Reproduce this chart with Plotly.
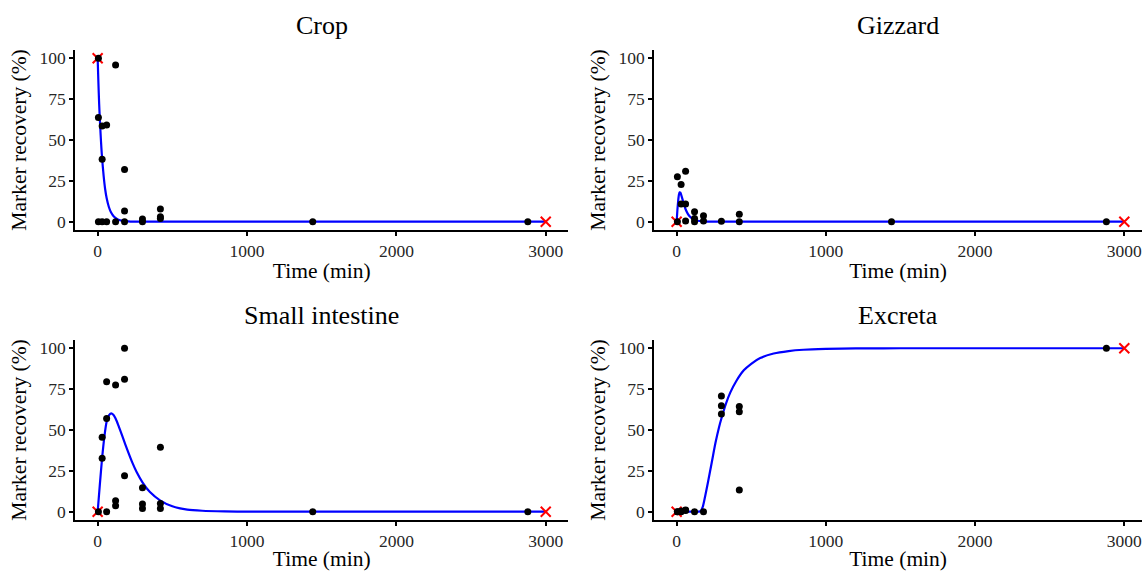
import plotly.graph_objects as go

# ---------------- data ----------------
panel_names = ["Crop", "Gizzard", "Small intestine", "Excreta"]
x_ticks = [0, 1000, 2000, 3000]
y_ticks = [0, 25, 50, 75, 100]

# observed marker recovery
crop_t = [5, 5, 5, 30, 30, 30, 60, 60, 120, 120, 180, 180, 180, 300, 300, 420, 420, 420, 1440, 2880]
crop_y = [100, 63.7, 0, 58.6, 38.2, 0, 59.2, 0, 95.9, 0, 32, 6.5, 0, 1.6, 0, 7.8, 3, 2, 0, 0]

giz_t = [5, 5, 30, 30, 60, 60, 60, 120, 120, 120, 180, 180, 300, 420, 420, 1440, 2880]
giz_y = [27.5, 0, 22.7, 10.8, 30.9, 10.8, 0.5, 6.1, 2, 0, 3.7, 0.5, 0.3, 4.5, 0, 0, 0]

si_t = [5, 30, 30, 60, 60, 60, 120, 120, 120, 180, 180, 180, 300, 300, 300, 420, 420, 420, 1440, 2880]
si_y = [0, 32.7, 45.5, 79.5, 57.1, 0, 77.6, 6.7, 3.7, 100, 81, 22, 14.7, 4.7, 2, 39.4, 5.1, 2, 0, 0]

exc_t = [5, 5, 30, 30, 60, 60, 120, 180, 300, 300, 300, 420, 420, 420, 2880]
exc_y = [0, 0, 0, 0.5, 0.8, 1, 0, 0, 70.8, 64.9, 59.8, 64.3, 61.2, 13.3, 100]

# fitted curves
crop_fit_t = [0, 5, 10, 15, 20, 25, 30, 40, 50, 60, 75, 90, 110, 135, 170, 220, 300, 3000]
crop_fit_y = [100, 85, 72, 62, 53, 45, 38.5, 28, 20, 14.5, 9, 5.6, 3, 1.4, 0.5, 0.1, 0, 0]

giz_fit_t = [0, 5, 10, 15, 20, 25, 30, 40, 50, 60, 75, 90, 110, 140, 180, 250, 400, 3000]
giz_fit_y = [0, 7, 12.5, 16.3, 18, 17.8, 16.6, 13.5, 10.3, 7.6, 4.8, 3, 1.5, 0.6, 0.2, 0, 0, 0]

si_fit_t = [0, 15, 30, 45, 60, 75, 90, 105, 120, 140, 170, 200, 230, 260, 300, 350, 420, 500,
            600, 700, 850, 1000, 1440, 3000]
si_fit_y = [0, 17, 33, 46, 55, 59, 60.2, 59.3, 57, 52.5, 45, 37.5, 30.5, 24.5, 18, 12, 6.8, 3.3,
            1.3, 0.6, 0.2, 0.05, 0, 0]

exc_fit_t = [0, 100, 160, 175, 190, 210, 235, 260, 285, 300, 330, 360, 400, 450, 500, 560, 650,
             750, 850, 1000, 1200, 1500, 3000]
exc_fit_y = [0, 0, 0.3, 3, 9, 18, 30, 42, 52, 57, 66, 73, 80, 86.5, 90.5, 94, 96.8, 98.3, 99.1,
             99.6, 99.9, 100, 100]

# boundary points (red crosses)
crop_bt, crop_by = [0, 3000], [100, 0]
giz_bt, giz_by = [0, 3000], [0, 0]
si_bt, si_by = [0, 3000], [0, 0]
exc_bt, exc_by = [0, 3000], [0, 100]

panels = [
    (crop_t, crop_y, crop_fit_t, crop_fit_y, crop_bt, crop_by),
    (giz_t, giz_y, giz_fit_t, giz_fit_y, giz_bt, giz_by),
    (si_t, si_y, si_fit_t, si_fit_y, si_bt, si_by),
    (exc_t, exc_y, exc_fit_t, exc_fit_y, exc_bt, exc_by),
]

# ---------------- layout geometry ----------------
W, H = 1142, 571
FONT = "Liberation Serif"
x_domains = [[0.0659, 0.4975], [0.5729, 1.0]]
x_ranges = [[-150, 3150], [-150, 3118.6]]
y_domains = [[0.5974, 0.9124], [0.0895, 0.4044]]
title_y = [1 - 25 / H, 1 - 315 / H]

fig = go.Figure()
layout_axes = {}
annotations = []

for i, (t, y, ft, fy, bt, by) in enumerate(panels):
    row, col = divmod(i, 2)
    n = i + 1
    xa = "x" if n == 1 else f"x{n}"
    ya = "y" if n == 1 else f"y{n}"

    fig.add_trace(go.Scatter(x=ft, y=fy, mode="lines",
                             line=dict(color="#0000FF", width=2.2, shape="spline", smoothing=0.7),
                             xaxis=xa, yaxis=ya, showlegend=False, hoverinfo="skip"))
    fig.add_trace(go.Scatter(x=bt, y=by, mode="markers",
                             marker=dict(symbol="x-thin", size=10, line=dict(color="#FF0000", width=2)),
                             xaxis=xa, yaxis=ya, showlegend=False))
    fig.add_trace(go.Scatter(x=t, y=y, mode="markers", marker=dict(color="black", size=7),
                             xaxis=xa, yaxis=ya, showlegend=False))

    axis_common = dict(showline=True, linecolor="black", linewidth=1.8, ticks="outside",
                       ticklen=4, tickwidth=1.5, tickcolor="black", showgrid=False, zeroline=False,
                       automargin=False, ticklabeloverflow="allow",
                       tickfont=dict(family=FONT, size=17.5, color="#262626"))
    xkey = "xaxis" if n == 1 else f"xaxis{n}"
    ykey = "yaxis" if n == 1 else f"yaxis{n}"
    layout_axes[xkey] = dict(axis_common, domain=x_domains[col], range=x_ranges[col],
                             tickvals=x_ticks, anchor=ya,
                             title=dict(text="Time (min)", standoff=3,
                                        font=dict(family=FONT, size=21.5, color="black")))
    layout_axes[ykey] = dict(axis_common, domain=y_domains[row], range=[-5, 105],
                             tickvals=y_ticks, anchor=xa,
                             title=dict(text="Marker recovery (%)", standoff=7,
                                        font=dict(family=FONT, size=21.5, color="black")))
    annotations.append(dict(text=panel_names[i], x=sum(x_domains[col]) / 2, y=title_y[row],
                            xref="paper", yref="paper", xanchor="center", yanchor="middle",
                            showarrow=False, font=dict(family=FONT, size=26, color="black")))

fig.update_layout(width=W, height=H, margin=dict(l=0, r=0, t=0, b=0),
                  plot_bgcolor="white", paper_bgcolor="white",
                  annotations=annotations, **layout_axes)

fig.write_html("out.html", config={"displayModeBar": False},
               post_script="document.body.style.margin='0px';")
